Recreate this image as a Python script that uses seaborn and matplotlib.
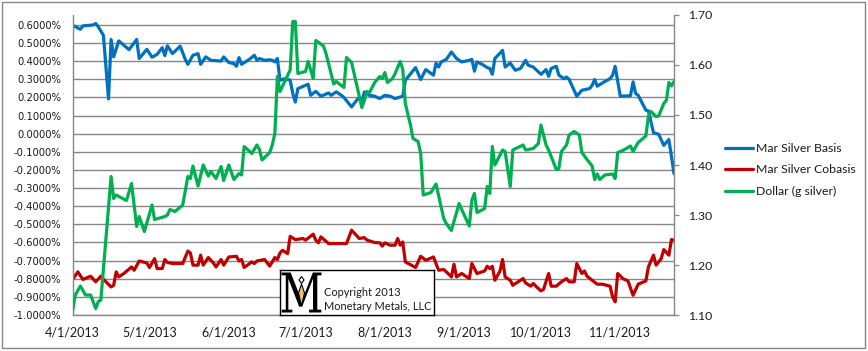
import matplotlib
matplotlib.use("Agg")
import matplotlib.pyplot as plt
import matplotlib.dates as mdates
from matplotlib.ticker import FuncFormatter
from matplotlib.patches import Polygon, PathPatch
from matplotlib.lines import Line2D
from matplotlib.textpath import TextPath
from matplotlib.font_manager import FontProperties
from matplotlib.transforms import Affine2D
import pandas as pd
import seaborn as sns

START = "2013-04-01"

# ---- data (days since 4/1/2013) ----
basis_days = [0, 3, 4, 8, 9, 10, 12, 14, 15, 16, 18, 22, 25, 26, 29, 31, 33, 35, 36, 37,
              39, 42, 44, 45, 47, 49, 50, 52, 54, 58, 59, 61, 63, 64, 65, 66, 69, 71, 72, 73,
              75, 77, 78, 79, 80, 81, 83, 85, 86, 87, 88, 91, 92, 93, 95, 97, 100, 101, 103, 105,
              106, 109, 111, 112, 113, 114, 116, 118, 120, 122, 124, 126, 129, 130, 134, 136, 138, 141, 142, 143,
              144, 146, 148, 150, 152, 155, 156, 157, 158, 160, 162, 163, 164, 165, 168, 169, 171, 173, 175, 177,
              178, 180, 183, 185, 186, 187, 189, 190, 192, 193, 194, 197, 199, 202, 203, 204, 205, 207, 210, 211,
              212, 214, 218, 219, 220, 221, 224, 225, 227, 229, 231, 233, 234, 235]
basis_pct = [0.598, 0.576, 0.595, 0.600, 0.608, 0.590, 0.543, 0.192, 0.520, 0.424,
             0.512, 0.464, 0.520, 0.415, 0.466, 0.422, 0.438, 0.475, 0.431, 0.485,
             0.442, 0.483, 0.410, 0.383, 0.433, 0.442, 0.383, 0.424, 0.405, 0.401,
             0.424, 0.393, 0.387, 0.372, 0.420, 0.383, 0.410, 0.433, 0.405, 0.415,
             0.405, 0.408, 0.405, 0.396, 0.415, 0.295, 0.304, 0.295, 0.222, 0.175,
             0.249, 0.267, 0.273, 0.212, 0.234, 0.207, 0.225, 0.212, 0.231, 0.212,
             0.200, 0.148, 0.185, 0.200, 0.175, 0.231, 0.212, 0.207, 0.194, 0.212,
             0.207, 0.194, 0.207, 0.295, 0.365, 0.299, 0.354, 0.323, 0.390, 0.368,
             0.396, 0.410, 0.451, 0.415, 0.396, 0.405, 0.410, 0.345, 0.396, 0.383,
             0.365, 0.360, 0.328, 0.415, 0.460, 0.368, 0.390, 0.350, 0.360, 0.405,
             0.378, 0.368, 0.328, 0.354, 0.317, 0.360, 0.372, 0.323, 0.304, 0.313,
             0.300, 0.207, 0.240, 0.249, 0.267, 0.299, 0.262, 0.280, 0.304, 0.322,
             0.372, 0.207, 0.210, 0.286, 0.222, 0.212, 0.130, 0.126, 0.005, -0.003,
             -0.064, -0.032, -0.128, -0.220]

cobasis_days = [0, 2, 4, 7, 9, 11, 13, 15, 16, 17, 18, 20, 23, 24, 26, 29, 30, 32, 33, 35,
                36, 37, 39, 43, 45, 46, 47, 49, 50, 51, 53, 55, 56, 58, 59, 61, 64, 65, 66, 67,
                70, 71, 72, 75, 77, 79, 80, 81, 82, 84, 85, 87, 90, 91, 94, 95, 96, 97, 100, 107,
                109, 112, 114, 115, 118, 120, 121, 122, 124, 126, 127, 128, 129, 130, 134, 136, 138, 141, 143, 145,
                147, 148, 149, 150, 152, 155, 156, 158, 161, 162, 163, 164, 165, 167, 168, 169, 171, 172, 176, 177,
                179, 180, 181, 183, 184, 186, 187, 189, 191, 193, 194, 196, 197, 199, 200, 201, 205, 207, 210, 211,
                212, 213, 215, 217, 219, 221, 224, 225, 227, 228, 230, 231, 233, 234, 235]
cobasis_pct = [-0.804, -0.762, -0.804, -0.786, -0.817, -0.786, -0.817, -0.845, -0.836, -0.762,
               -0.790, -0.771, -0.735, -0.753, -0.702, -0.713, -0.738, -0.689, -0.744, -0.744,
               -0.694, -0.710, -0.716, -0.716, -0.647, -0.658, -0.725, -0.725, -0.670, -0.725,
               -0.683, -0.713, -0.735, -0.694, -0.725, -0.680, -0.676, -0.702, -0.694, -0.738,
               -0.707, -0.716, -0.702, -0.694, -0.730, -0.683, -0.694, -0.658, -0.643, -0.661,
               -0.566, -0.584, -0.578, -0.587, -0.554, -0.587, -0.602, -0.569, -0.606, -0.606,
               -0.532, -0.578, -0.573, -0.587, -0.600, -0.602, -0.620, -0.602, -0.615, -0.615,
               -0.578, -0.615, -0.597, -0.707, -0.738, -0.676, -0.698, -0.680, -0.753, -0.749,
               -0.775, -0.790, -0.720, -0.790, -0.771, -0.799, -0.716, -0.771, -0.757, -0.731,
               -0.744, -0.731, -0.808, -0.757, -0.694, -0.790, -0.808, -0.836, -0.799, -0.823,
               -0.841, -0.826, -0.841, -0.867, -0.859, -0.771, -0.841, -0.841, -0.817, -0.799,
               -0.817, -0.817, -0.716, -0.771, -0.757, -0.786, -0.830, -0.830, -0.841, -0.900,
               -0.927, -0.771, -0.799, -0.812, -0.891, -0.830, -0.812, -0.735, -0.670, -0.725,
               -0.689, -0.639, -0.670, -0.584, -0.587]

dollar_days = [0, 1, 3, 5, 7, 9, 10, 11, 15, 16, 17, 21, 23, 25, 26, 28, 31, 32, 36, 37,
               38, 40, 43, 45, 46, 47, 49, 51, 53, 54, 56, 58, 59, 61, 63, 65, 66, 67, 70, 72,
               73, 74, 77, 78, 79, 80, 81, 85, 86, 87, 88, 91, 92, 94, 95, 98, 99, 102, 103, 106,
               107, 109, 113, 114, 115, 116, 118, 120, 121, 122, 123, 125, 126, 128, 129, 130, 132, 133, 135, 136,
               137, 140, 142, 145, 146, 148, 151, 153, 155, 156, 157, 158, 161, 162, 163, 164, 165, 168, 169, 171,
               172, 176, 177, 180, 182, 183, 185, 186, 189, 190, 191, 193, 194, 196, 198, 199, 201, 203, 204, 205,
               206, 208, 211, 212, 213, 215, 218, 219, 221, 224, 225, 226, 228, 229, 231, 232, 233, 234, 235]
dollar_g = [1.110, 1.140, 1.158, 1.140, 1.140, 1.113, 1.127, 1.130, 1.377, 1.333,
            1.340, 1.329, 1.363, 1.277, 1.297, 1.267, 1.320, 1.291, 1.297, 1.300,
            1.311, 1.307, 1.320, 1.377, 1.373, 1.398, 1.358, 1.400, 1.378, 1.387,
            1.373, 1.397, 1.369, 1.400, 1.371, 1.383, 1.380, 1.437, 1.423, 1.440,
            1.431, 1.410, 1.425, 1.440, 1.463, 1.577, 1.547, 1.590, 1.687, 1.687,
            1.583, 1.587, 1.607, 1.573, 1.649, 1.638, 1.623, 1.562, 1.567, 1.555,
            1.615, 1.605, 1.515, 1.529, 1.547, 1.545, 1.565, 1.577, 1.573, 1.585,
            1.565, 1.573, 1.583, 1.607, 1.591, 1.523, 1.480, 1.453, 1.447, 1.423,
            1.340, 1.345, 1.362, 1.293, 1.283, 1.269, 1.323, 1.300, 1.278, 1.330,
            1.343, 1.305, 1.313, 1.357, 1.343, 1.437, 1.400, 1.430, 1.427, 1.357,
            1.430, 1.440, 1.430, 1.433, 1.443, 1.480, 1.440, 1.430, 1.391, 1.393,
            1.427, 1.440, 1.460, 1.467, 1.460, 1.425, 1.411, 1.398, 1.371, 1.382,
            1.371, 1.380, 1.382, 1.373, 1.425, 1.429, 1.438, 1.427, 1.445, 1.458,
            1.498, 1.507, 1.497, 1.498, 1.523, 1.529, 1.565, 1.558, 1.567]

series_names = ["Mar Silver Basis", "Mar Silver Cobasis", "Dollar (g silver)"]
left_ticks = [0.6, 0.5, 0.4, 0.3, 0.2, 0.1, 0.0, -0.1, -0.2, -0.3, -0.4, -0.5, -0.6, -0.7, -0.8, -0.9, -1.0]
right_ticks = [1.10, 1.20, 1.30, 1.40, 1.50, 1.60, 1.70]
month_ticks = ["2013-04-01", "2013-05-01", "2013-06-01", "2013-07-01",
               "2013-08-01", "2013-09-01", "2013-10-01", "2013-11-01"]
END_DAY = 235
watermark_lines = ["Copyright 2013", "Monetary Metals, LLC"]

# ---- style ----
BLUE, RED, GREEN = "#0070C0", "#C00000", "#00B050"
GRAY = "#878787"
TXT = "#1a1a1a"
LW = 2.3

sns.set_theme(style="white")
plt.rcParams['font.family'] = ['Lato', 'DejaVu Sans']

W, H = 868, 351
fig = plt.figure(figsize=(W / 100, H / 100), dpi=100)
fig.patch.set_facecolor("white")


def fx(px):
    return px / W


def fy(py):
    return 1 - py / H


ax = fig.add_axes([fx(72.7), fy(315), (674 - 72.7) / W, 300 / H])
ax2 = ax.twinx()

start = pd.Timestamp(START)


def to_dates(days):
    return start + pd.to_timedelta(days, unit="D")


sns.lineplot(x=to_dates(basis_days), y=basis_pct, ax=ax, color=BLUE, lw=LW,
             estimator=None, sort=False, legend=False)
sns.lineplot(x=to_dates(cobasis_days), y=cobasis_pct, ax=ax, color=RED, lw=LW,
             estimator=None, sort=False, legend=False)
sns.lineplot(x=to_dates(dollar_days), y=dollar_g, ax=ax2, color=GREEN, lw=LW,
             estimator=None, sort=False, legend=False)
for l in ax.lines + ax2.lines:
    l.set_solid_joinstyle("round")

# left axis
ax.set_ylim(-1.0, 0.655)
ax.set_yticks(left_ticks)
ax.yaxis.set_major_formatter(FuncFormatter(lambda v, p: f"{v:.4f}%"))
ax.yaxis.grid(True, color=GRAY, lw=1.0)
ax.xaxis.grid(False)
ax.set_axisbelow(True)
ax.tick_params(axis="y", length=0, pad=8.4, labelsize=7.2, labelcolor=TXT,
               labelfontfamily="DejaVu Sans")
ax.set_xlabel("")
ax.set_ylabel("")

# x axis
ax.set_xlim(start, start + pd.Timedelta(days=END_DAY))
ax.set_xticks(pd.to_datetime(month_ticks))


def datefmt(v, p):
    d = mdates.num2date(v)
    return f"{d.month}/{d.day}/{d.year}"


ax.xaxis.set_major_formatter(FuncFormatter(datefmt))
ax.tick_params(axis="x", length=4, width=0.9, color=GRAY, direction="out",
               pad=4.5, labelsize=9, labelcolor=TXT)

# right axis
ax2.set_ylim(1.10, 1.70)
ax2.set_yticks(right_ticks)
ax2.yaxis.set_major_formatter(FuncFormatter(lambda v, p: f"{v:.2f}"))
ax2.tick_params(axis="y", length=3.5, width=0.9, color=GRAY, direction="out",
                pad=6.5, labelsize=8.8, labelcolor=TXT)
ax2.set_ylabel("")
ax2.grid(False)

for s in ["top", "right"]:
    ax.spines[s].set_visible(False)
for s in ["left", "bottom"]:
    ax.spines[s].set_color(GRAY)
    ax.spines[s].set_linewidth(1.0)
for s in ["top", "left", "bottom"]:
    ax2.spines[s].set_visible(False)
ax2.spines["right"].set_color(GRAY)
ax2.spines["right"].set_linewidth(1.0)

# legend
handles = [Line2D([], [], color=c, lw=LW) for c in (BLUE, RED, GREEN)]
fig.legend(handles, series_names, loc="upper left", bbox_to_anchor=(fx(725), fy(143)),
           frameon=False, fontsize=8.8, handlelength=2.3, handletextpad=0.2,
           labelspacing=0.85, borderpad=0, borderaxespad=0, labelcolor=TXT)

# watermark box
wm = fig.add_axes([fx(279.5), fy(315), 154.5 / W, 45 / H], zorder=10)
wm.set_xlim(0, 154.5)
wm.set_ylim(0, 45)
wm.set_facecolor("white")
wm.set_xticks([])
wm.set_yticks([])
for s in wm.spines.values():
    s.set_color("black")
    s.set_linewidth(1.0)
tp = TextPath((0, 0), "M", size=1, prop=FontProperties(family="DejaVu Serif"))
ext = tp.get_extents()
tr = Affine2D().translate(-ext.x0, -ext.y0).scale(40 / ext.width, 40 / ext.height).translate(2, 2.5)
wm.add_patch(PathPatch(tr.transform_path(tp), facecolor="black", edgecolor="none"))
wm.add_patch(Polygon([(22, 31), (25, 22), (22, 9), (19, 22)], closed=True,
                     facecolor="#E9C46A", edgecolor="black", lw=0.8, zorder=3))
wm.add_patch(Polygon([(22, 38.5), (24.5, 35), (22, 31.5), (19.5, 35)], closed=True,
                     facecolor="white", edgecolor="black", lw=0.8, zorder=3))
wm.text(44, 22, watermark_lines[0], ha="left", va="center", fontsize=7.9, color=TXT)
wm.text(44, 8.5, watermark_lines[1], ha="left", va="center", fontsize=7.9, color=TXT)

# outer frame
fig.add_artist(plt.Rectangle((fx(2), fy(348)), (863) / W, 346 / H, transform=fig.transFigure,
                             fill=False, edgecolor=GRAY, lw=1.0))

fig.savefig("out.png", dpi=100, facecolor="white")
